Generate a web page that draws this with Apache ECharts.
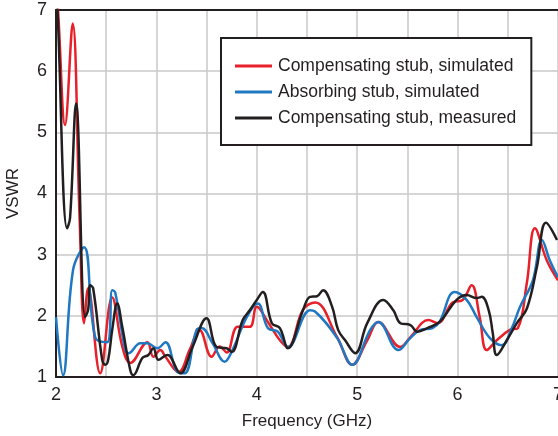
<!DOCTYPE html>
<html>
<head>
<meta charset="utf-8">
<script src="https://cdn.jsdelivr.net/npm/echarts@6/dist/echarts.min.js"></script>
<style>
  html, body { margin: 0; padding: 0; background: #fff; }
  #chart { width: 558px; height: 436px; }
</style>
</head>
<body>
<div id="chart"></div>
<script>
// frequency (GHz), VSWR pairs
var compSim = [
  [2.00, 7.3], [2.02, 7.0], [2.09, 5.12], [2.166, 6.78], [2.235, 3.6], [2.28, 1.88],
  [2.32, 2.45], [2.44, 1.06], [2.56, 2.3], [2.66, 1.5], [2.74, 1.23], [2.91, 1.57],
  [2.97, 1.33], [3.04, 1.44], [3.09, 1.33], [3.22, 1.08], [3.33, 1.44], [3.43, 1.77],
  [3.55, 1.33], [3.63, 1.5], [3.70, 1.4], [3.81, 1.82], [3.93, 1.82], [4.00, 2.15],
  [4.11, 1.9], [4.23, 1.6], [4.31, 1.49], [4.46, 2.1], [4.58, 2.22], [4.80, 1.65],
  [4.95, 1.2], [5.10, 1.6], [5.21, 1.9], [5.43, 1.49], [5.53, 1.65], [5.71, 1.93],
  [5.80, 1.88], [5.95, 2.22], [6.05, 2.26], [6.14, 2.5], [6.22, 1.98], [6.29, 1.44],
  [6.39, 1.6], [6.52, 1.77], [6.60, 1.8], [6.69, 2.54], [6.77, 3.43], [6.89, 2.9],
  [7.00, 2.58]
];
var absSim = [
  [2.00, 1.98], [2.07, 1.03], [2.17, 2.75], [2.28, 3.12], [2.39, 1.65], [2.51, 1.57],
  [2.56, 2.42], [2.59, 2.38], [2.69, 1.44], [2.72, 1.39], [2.84, 1.55], [2.91, 1.55],
  [3.01, 1.47], [3.09, 1.57], [3.21, 1.08], [3.28, 1.06], [3.40, 1.77], [3.45, 1.8],
  [3.56, 1.55], [3.68, 1.25], [3.76, 1.45], [3.90, 1.98], [4.01, 2.2], [4.11, 1.8],
  [4.21, 1.74], [4.31, 1.49], [4.53, 2.09], [4.58, 2.07], [4.80, 1.64], [4.95, 1.2],
  [5.13, 1.77], [5.21, 1.9], [5.41, 1.44], [5.53, 1.64], [5.63, 1.77], [5.75, 1.8],
  [5.82, 1.9], [5.97, 2.39], [6.09, 2.26], [6.19, 1.98], [6.32, 1.64], [6.44, 1.52],
  [6.54, 1.8], [6.62, 2.14], [6.75, 2.58], [6.84, 3.24], [6.92, 2.9], [7.00, 2.63]
];
var compMeas = [
  [2.00, 7.3], [2.015, 7.0], [2.11, 3.43], [2.14, 3.6], [2.20, 5.47], [2.29, 1.98],
  [2.32, 2.1], [2.34, 2.5], [2.37, 2.45], [2.46, 1.28], [2.49, 1.2], [2.52, 1.28],
  [2.56, 1.77], [2.61, 2.2], [2.66, 1.82], [2.74, 1.11], [2.77, 1.03], [2.86, 1.31],
  [2.92, 1.36], [2.97, 1.47], [3.02, 1.28], [3.11, 1.36], [3.14, 1.33], [3.24, 1.06],
  [3.36, 1.49], [3.50, 1.96], [3.60, 1.49], [3.70, 1.47], [3.75, 1.41], [3.86, 1.93],
  [3.93, 2.09], [4.00, 2.26], [4.06, 2.39], [4.15, 1.88], [4.23, 1.8], [4.31, 1.47],
  [4.46, 2.09], [4.53, 2.31], [4.60, 2.32], [4.66, 2.42], [4.75, 2.15], [4.81, 1.77],
  [4.88, 1.6], [4.98, 1.39], [5.10, 1.88], [5.26, 2.26], [5.36, 2.09], [5.43, 1.88],
  [5.53, 1.85], [5.60, 1.74], [5.70, 1.8], [5.82, 1.9], [5.99, 2.26], [6.09, 2.34],
  [6.19, 2.29], [6.24, 2.31], [6.31, 2.09], [6.35, 1.72], [6.39, 1.36], [6.49, 1.6],
  [6.59, 1.88], [6.69, 2.12], [6.79, 2.8], [6.88, 3.52], [6.99, 3.24]
];
var seriesNames = ['Compensating stub, simulated', 'Absorbing stub, simulated', 'Compensating stub, measured'];
var seriesColors = ['#e8202a', '#1f78c1', '#231f20'];

var myChart = echarts.init(document.getElementById('chart'));
var font = 'Liberation Sans';

var option = {
    animation: false,
    grid: { left: 56, right: 0, top: 10, bottom: 59, outerBoundsMode: 'none', containLabel: false },
    legend: {
        orient: 'vertical',
        left: 221,
        top: 38,
        padding: [18, 15, 17, 14],
        itemGap: 6,
        itemWidth: 37,
        itemHeight: 3,
        icon: 'rect',
        borderColor: '#231f20',
        borderWidth: 2,
        backgroundColor: '#fff',
        textStyle: { fontFamily: font, fontSize: 17.5, color: '#231f20', lineHeight: 20, padding: [0, 0, 0, 1] },
        data: seriesNames
    },
    xAxis: [{
        type: 'value',
        min: 2, max: 7, interval: 0.5,
        name: 'Frequency (GHz)',
        nameLocation: 'middle',
        nameGap: 36,
        nameTextStyle: { fontFamily: font, fontSize: 17, color: '#231f20' },
        axisLine: { show: true, onZero: false, lineStyle: { color: '#231f20', width: 2 } },
        axisTick: { show: false },
        axisLabel: {
            fontFamily: font, fontSize: 18, color: '#231f20', margin: 9,
            formatter: function (v) { return v % 1 === 0 ? String(v) : ''; }
        },
        splitLine: { show: true, lineStyle: { color: '#c8c8c8', width: 1.5 } }
    }, {
        type: 'value', position: 'top',
        min: 2, max: 7,
        axisLine: { show: true, lineStyle: { color: '#231f20', width: 2 } },
        axisTick: { show: false }, axisLabel: { show: false }, splitLine: { show: false }
    }],
    yAxis: {
        type: 'value',
        min: 1, max: 7, interval: 1,
        name: 'VSWR',
        nameLocation: 'middle',
        nameGap: 34,
        nameTextStyle: { fontFamily: font, fontSize: 17, color: '#231f20' },
        axisLine: { show: true, lineStyle: { color: '#231f20', width: 2 } },
        axisTick: { show: false },
        axisLabel: { fontFamily: font, fontSize: 18, color: '#231f20', margin: 9 },
        splitLine: { show: true, lineStyle: { color: '#c8c8c8', width: 1.5 } }
    },
    series: [compSim, absSim, compMeas].map(function (d, i) {
        return {
            name: seriesNames[i],
            type: 'line',
            data: d,
            smooth: 0.4,
            showSymbol: false,
            symbol: 'none',
            color: seriesColors[i],
            lineStyle: { width: 2.5, color: seriesColors[i] },
            z: 3 + i
        };
    })
};
myChart.setOption(option);
</script>
</body>
</html>
